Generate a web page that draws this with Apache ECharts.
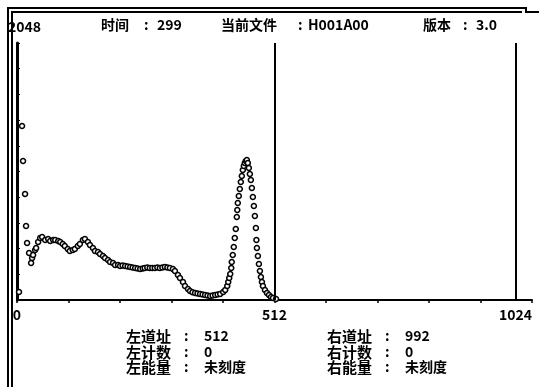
<!DOCTYPE html>
<html>
<head>
<meta charset="utf-8">
<script src="https://cdn.jsdelivr.net/npm/echarts@6/dist/echarts.min.js"></script>
<style>
  html, body { margin: 0; padding: 0; background: #fff; }
  #main { width: 539px; height: 387px; }
</style>
</head>
<body>
<div id="main"></div>
<script>
// 道址 / 计数
var channels = [4, 10, 12, 16, 18, 20, 24,
  28, 30, 32, 36, 38, 42, 46, 50, 56, 62, 66, 72, 76, 82, 86, 91, 95, 101, 105, 111, 115, 121, 125,
  131, 135, 141, 145, 151, 155, 161, 165, 171, 175, 181, 185, 191, 195, 201, 205, 210, 215, 220,
  225, 230, 235, 240, 245, 250, 254, 259, 264, 269, 274, 279, 284, 289, 294, 299, 304, 310, 314,
  320, 324, 330, 334, 340, 344, 349, 354, 359, 364, 369, 374, 379, 384, 389, 394, 399, 404, 410,
  414, 418, 420, 422, 424, 426, 427, 429, 431, 433, 435, 437, 438, 439, 441, 443, 445, 447, 449,
  451, 453, 455, 457, 459, 461, 463, 465, 467, 469, 471, 473, 475, 476, 477, 479, 481, 483, 485,
  487, 489, 493, 497, 501, 505, 509, 515];
var counts = [64, 1387, 1108, 845, 590, 454, 374,
  295, 335, 359, 398, 414, 462, 494, 502, 478, 486, 470, 478, 478, 470, 462, 446, 430, 406, 390, 398, 406, 430, 446,
  478, 486, 462, 438, 414, 390, 383, 367, 351, 335, 319, 303, 295, 279, 279, 271, 275, 271, 267,
  263, 259, 255, 251, 247, 251, 255, 259, 255, 255, 255, 259, 255, 259, 263, 259, 255, 247, 231,
  199, 175, 143, 112, 88, 72, 62, 56, 52, 48, 44, 40, 36, 32, 36, 40, 44, 48, 64,
  80, 112, 143, 175, 207, 255, 303, 359, 422, 494, 566, 661, 717, 773, 829, 885, 940, 988, 1036,
  1068, 1092, 1108, 1116, 1092, 1052, 1004, 956, 893, 821, 749, 669, 574, 478, 414, 351, 287, 231, 183,
  143, 112, 80, 56, 40, 24, 16, 8];

var xTickLabels = [0, 512, 1024];
var yMaxLabel = '2048';

// 光标
var cursorNames = ['左', '右'];
var cursorChannels = [512, 992];
var cursorCounts = ['0', '0'];
var cursorEnergy = ['未刻度', '未刻度'];

// 顶部信息
var headerLabels = ['时间', '当前文件', '版本'];
var headerValues = ['299', 'H001A00', '3.0'];

var font = '"Noto Sans CJK SC", "DejaVu Sans", sans-serif';

var seriesData = channels.map(function (c, i) { return [c, counts[i]]; });

var chart = echarts.init(document.getElementById('main'));

var graphics = [
  // 外框
  { type: 'polyline', shape: { points: [[8, 387], [8, 8], [526, 8], [526, 12], [539, 12]] },
    style: { stroke: '#000', lineWidth: 2, fill: null } },
  { type: 'polyline', shape: { points: [[12, 387], [12, 12], [522, 12]] },
    style: { stroke: '#000', lineWidth: 2, fill: null } }
];

// 标签 / 冒号 / 数值 的横向位置
var headerPos = [[101, 144, 157], [221, 298, 308], [423, 463, 476]];
headerLabels.forEach(function (t, i) {
  var p = headerPos[i];
  graphics.push({ type: 'text', left: p[0], top: 18,
    style: { text: t, fill: '#000', font: 'bold 14px ' + font } });
  graphics.push({ type: 'text', left: p[1], top: 18,
    style: { text: ':', fill: '#000', font: 'bold 14px ' + font } });
  graphics.push({ type: 'text', left: p[2], top: 18,
    style: { text: headerValues[i], fill: '#000', font: 'bold 14px ' + font } });
});

var rowTitles = ['道址', '计数', '能量'];
var blockX = [126, 327];
cursorNames.forEach(function (n, k) {
  var vals = [String(cursorChannels[k]), cursorCounts[k], cursorEnergy[k]];
  rowTitles.forEach(function (t, r) {
    var y = 329 + r * 15.5;
    graphics.push({ type: 'text', left: blockX[k], top: y,
      style: { text: n + t, fill: '#000', font: 'bold 15px ' + font } });
    graphics.push({ type: 'text', left: blockX[k] + 58, top: y,
      style: { text: ':', fill: '#000', font: 'bold 14px ' + font } });
    graphics.push({ type: 'text', left: blockX[k] + 78, top: y,
      style: { text: vals[r], fill: '#000', font: 'bold 14px ' + font } });
  });
});

chart.setOption({
  backgroundColor: '#fff',
  animation: false,
  grid: { left: 17, right: 7, top: 43, bottom: 87 },
  xAxis: {
    type: 'value', min: 0, max: 1024, interval: 102.4,
    axisLine: { show: true, lineStyle: { color: '#000', width: 2 } },
    axisTick: { show: true, length: 3, lineStyle: { color: '#000', width: 1.5 } },
    splitLine: { show: false },
    axisLabel: {
      color: '#000', fontFamily: font, fontWeight: 'bold', fontSize: 14, margin: 8,
      alignMaxLabel: 'right',
      formatter: function (v) {
        var r = Math.round(v);
        return xTickLabels.indexOf(r) >= 0 && Math.abs(v - r) < 0.01 ? String(r) : '';
      }
    }
  },
  yAxis: {
    type: 'value', min: 0, max: 2048, interval: 204.8,
    name: yMaxLabel, nameLocation: 'end', nameGap: 9,
    nameTextStyle: { color: '#000', fontFamily: font, fontWeight: 'bold', fontSize: 14, align: 'left', padding: [0, 0, 0, -9] },
    axisLine: { show: true, lineStyle: { color: '#000', width: 3 } },
    axisTick: { show: true, inside: true, length: 3, lineStyle: { color: '#000', width: 1 } },
    splitLine: { show: false },
    axisLabel: { show: false }
  },
  series: [{
    type: 'scatter',
    data: seriesData,
    symbol: 'circle',
    symbolSize: 5,
    itemStyle: { color: '#fff', borderColor: '#000', borderWidth: 1.5, opacity: 1 },
    markLine: {
      silent: true,
      symbol: ['none', 'none'],
      label: { show: false },
      lineStyle: { color: '#000', width: 2, type: 'solid' },
      data: cursorChannels.map(function (c) { return { xAxis: c }; })
    }
  }],
  graphic: graphics
});
</script>
</body>
</html>
